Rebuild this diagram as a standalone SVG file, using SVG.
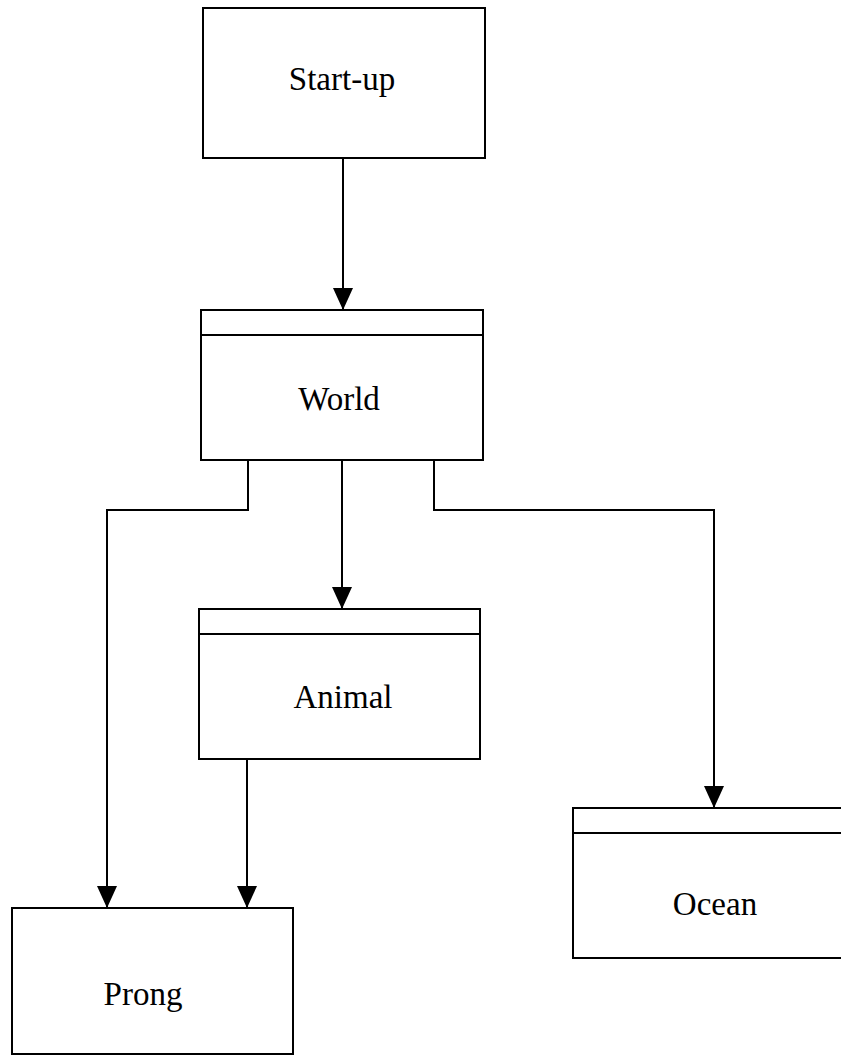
<svg xmlns="http://www.w3.org/2000/svg" width="841" height="1057" viewBox="0 0 841 1057">
<style>
.box{fill:#fff;stroke:#000;stroke-width:2}
.hdr{stroke:#000;stroke-width:2;fill:none}
.lbl{font-family:"Liberation Serif","Times New Roman",serif;font-size:33px;fill:#000;text-anchor:middle}
.conn{fill:none;stroke:#000;stroke-width:2;marker-end:url(#arr)}
</style>
<defs>
<marker id="arr" markerUnits="userSpaceOnUse" markerWidth="22" markerHeight="20" refX="22" refY="10" orient="auto" viewBox="0 0 22 20">
<path d="M0,0 L22,10 L0,20 Z" fill="#000"/>
</marker>
</defs>
<rect width="841" height="1057" fill="#fff"/>
<g id="connectors">
<path class="conn" d="M343,158 V310"/>
<path class="conn" d="M248,460 V510 H107 V908"/>
<path class="conn" d="M342,460 V609"/>
<path class="conn" d="M434,460 V510 H714 V808"/>
<path class="conn" d="M247,759 V908"/>
</g>
<g id="startup">
<rect class="box" x="203" y="8" width="282" height="150"/>
<text class="lbl" x="342" y="90">Start-up</text>
</g>
<g id="world">
<rect class="box" x="201" y="310" width="282" height="150"/>
<line class="hdr" x1="201" y1="335" x2="483" y2="335"/>
<text class="lbl" x="339" y="410">World</text>
</g>
<g id="animal">
<rect class="box" x="199" y="609" width="281" height="150"/>
<line class="hdr" x1="199" y1="634" x2="480" y2="634"/>
<text class="lbl" x="343" y="708">Animal</text>
</g>
<g id="prong">
<rect class="box" x="12" y="908" width="281" height="146"/>
<text class="lbl" x="143" y="1005">Prong</text>
</g>
<g id="ocean">
<rect class="box" x="573" y="808" width="284" height="150"/>
<line class="hdr" x1="573" y1="833" x2="857" y2="833"/>
<text class="lbl" x="715" y="915">Ocean</text>
</g>
</svg>
